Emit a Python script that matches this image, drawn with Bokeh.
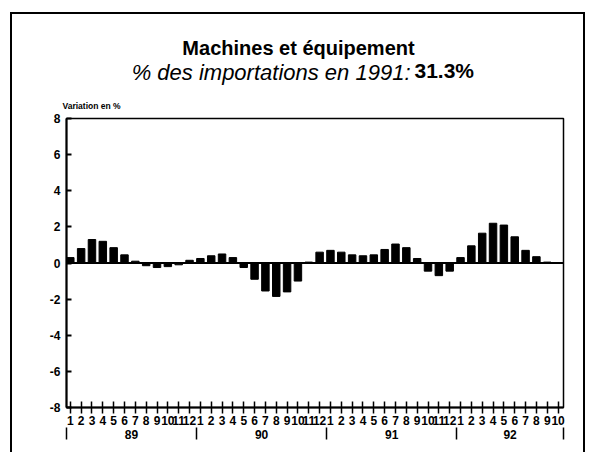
from bokeh.plotting import figure
from bokeh.models import Range1d, LinearAxis, FixedTicker, Label, Span
from bokeh.embed import file_html
from bokeh.resources import INLINE

# ---- data (monthly % variation, Jan 1989 .. Oct 1992) ----
years = ["89", "90", "91", "92"]
values_89 = [0.3, 0.8, 1.3, 1.2, 0.85, 0.45, 0.1, -0.15, -0.25, -0.2, -0.1, 0.15]
values_90 = [0.25, 0.4, 0.5, 0.3, -0.25, -0.9, -1.55, -1.85, -1.6, -1.0, 0.05, 0.6]
values_91 = [0.7, 0.6, 0.45, 0.4, 0.45, 0.75, 1.05, 0.85, 0.25, -0.45, -0.7, -0.45]
values_92 = [0.3, 0.95, 1.65, 2.2, 2.1, 1.45, 0.7, 0.35, 0.05, 0.0]
y_ticks = [-8, -6, -4, -2, 0, 2, 4, 6, 8]
title_text = "Machines et équipement"
subtitle_text = "% des importations en 1991:"
subtitle_value = "31.3%"
y_title = "Variation en %"

series = [values_89, values_90, values_91, values_92]
vals = [v for s in series for v in s]
months = [m + 1 for s in series for m in range(len(s))]
xs = list(range(1, len(vals) + 1))

# year group edges and centres (in month-slot units)
edges = [0.65]
for s in series:
    edges.append(edges[-1] + len(s))
edges[-1] = len(vals) + 0.5
centres = [(a + b) / 2 for a, b in zip(edges[:-1], edges[1:])]

FONT = "Liberation Sans"

p = figure(width=593, height=452, output_backend="svg", toolbar_location=None,
           title=None,
           x_range=Range1d(0.65, len(vals) + 0.5), y_range=Range1d(-8, 8),
           x_axis_type=None, y_axis_type=None,
           min_border_left=66, min_border_right=30, min_border_top=118,
           min_border_bottom=45)
p.xgrid.visible = False
p.ygrid.visible = False
p.outline_line_color = "black"
p.outline_line_width = 1.5
p.background_fill_color = "white"
p.border_fill_color = None
# outer frame of the panel (left, top, right edges)
p.styles = {"background": (
    "linear-gradient(#000,#000) 10px 12px / 2px 440px no-repeat, "
    "linear-gradient(#000,#000) 10px 12px / 575px 2px no-repeat, "
    "linear-gradient(#000,#000) 583px 12px / 2px 440px no-repeat, #fff")}

yaxis = LinearAxis(ticker=FixedTicker(ticks=y_ticks, minor_ticks=[]),
                   major_label_overrides={t: str(t) for t in y_ticks},
                   major_tick_in=5, major_tick_out=0, major_tick_line_width=2,
                   minor_tick_line_color=None, axis_line_width=2,
                   major_label_standoff=6,
                   major_label_text_font=FONT, major_label_text_font_style="bold",
                   major_label_text_font_size="12px", major_label_text_color="black")
p.add_layout(yaxis, "left")

xaxis = LinearAxis(ticker=FixedTicker(ticks=xs, minor_ticks=[]),
                   major_label_overrides={x: str(m) for x, m in zip(xs, months)},
                   major_tick_in=6, major_tick_out=6, major_tick_line_width=1.5,
                   minor_tick_line_color=None, axis_line_width=2,
                   major_label_standoff=2,
                   major_label_text_font=FONT, major_label_text_font_style="bold",
                   major_label_text_font_size="12px", major_label_text_color="black")
p.add_layout(xaxis, "below")

yr_axis = LinearAxis(ticker=FixedTicker(ticks=centres, minor_ticks=edges),
                     major_label_overrides={c: y for c, y in zip(centres, years)},
                     major_tick_line_color=None, major_tick_in=0, major_tick_out=0,
                     minor_tick_in=0, minor_tick_out=12, minor_tick_line_width=1.5,
                     minor_tick_line_color="black",
                     axis_line_color=None, major_label_standoff=-10,
                     major_label_text_font=FONT, major_label_text_font_style="bold",
                     major_label_text_font_size="12px", major_label_text_color="black")
p.add_layout(yr_axis, "below")

p.vbar(x=xs, top=vals, bottom=0, width=0.69, color="black")
p.add_layout(Span(location=0, dimension="width", line_color="black", line_width=2))

# texts placed in the panels above the frame (each label stacks in its own row)
p.add_layout(Label(x=232, y=71, x_units="screen", y_units="screen", text=title_text,
                   text_align="center", text_baseline="middle", text_color="black",
                   text_font=FONT, text_font_style="bold", text_font_size="20px"), "above")
p.add_layout(Label(x=344, y=24, x_units="screen", y_units="screen", text=subtitle_text,
                   text_align="right", text_baseline="middle", text_color="black",
                   text_font=FONT, text_font_style="italic", text_font_size="22px"), "above")
p.add_layout(Label(x=348, y=1, x_units="screen", y_units="screen", text=subtitle_value,
                   text_align="left", text_baseline="middle", text_color="black",
                   text_font=FONT, text_font_style="bold", text_font_size="21px"), "above")
p.add_layout(Label(x=-4, y=-57, x_units="screen", y_units="screen", text=y_title,
                   text_align="left", text_baseline="middle", text_color="black",
                   text_font=FONT, text_font_style="bold", text_font_size="8.5px"), "above")

open("out.html", "w").write(file_html(p, INLINE))
